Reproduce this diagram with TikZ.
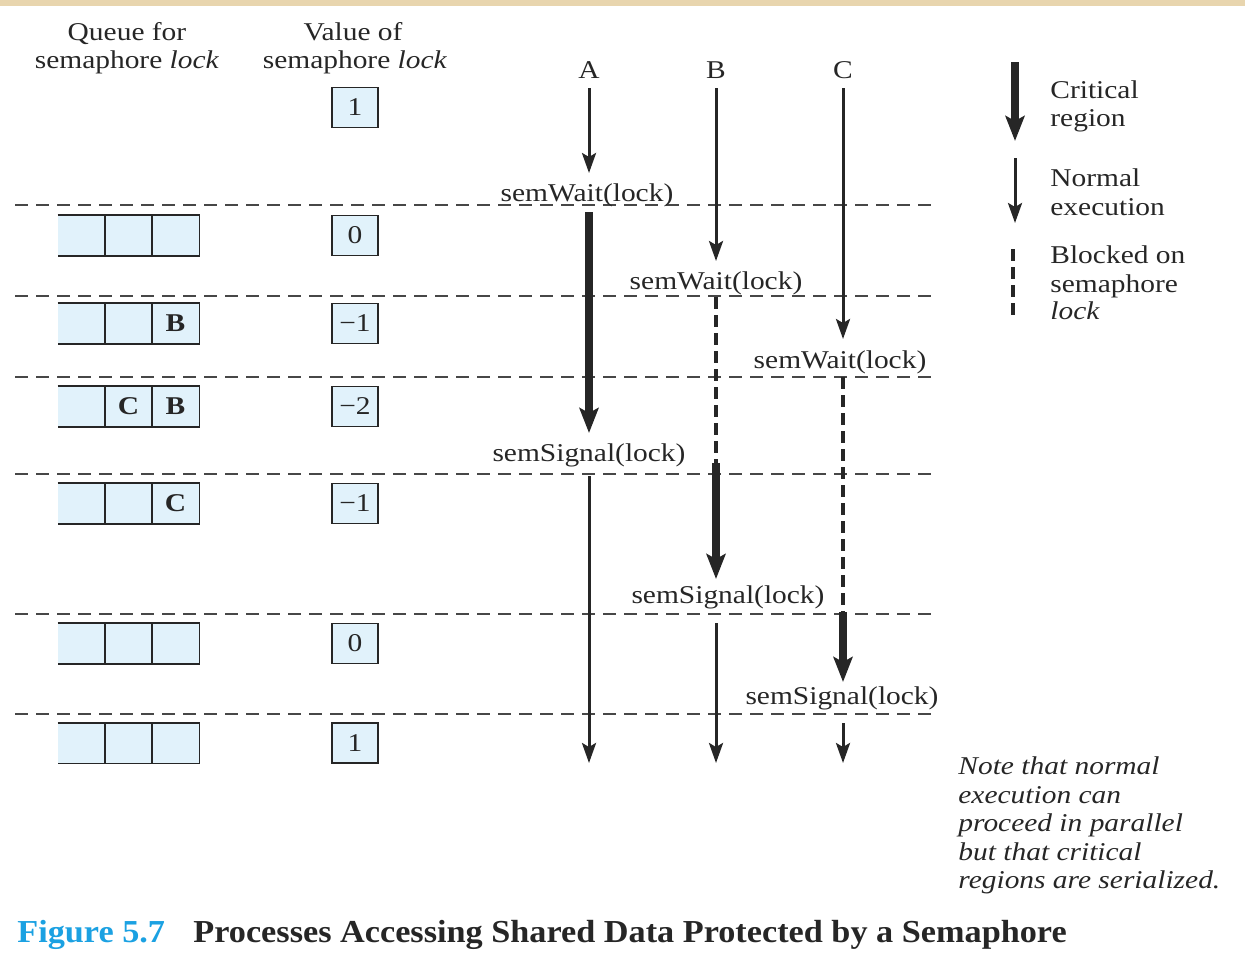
\documentclass[tikz,border=0pt]{standalone}
\usepackage{fontspec}
\setmainfont{Liberation Serif}[FakeStretch=1.15]
\newfontfamily\capfont{Liberation Serif}[FakeStretch=1.07]
\usetikzlibrary{arrows.meta}

\definecolor{ink}{HTML}{262626}
\definecolor{boxfill}{HTML}{E1F2FB}
\definecolor{figblue}{HTML}{1BA1E2}
\definecolor{paper}{HTML}{E8D5AE}

\begin{document}
\begin{tikzpicture}[x=0.5pt,y=-0.5pt,
  every node/.style={font=\fontsize{12.8}{15}\selectfont, text=ink, inner sep=0pt},
  lbl/.style={anchor=base},
  lblw/.style={anchor=base west},
  valbox/.style={draw=ink, line width=0.9pt, fill=boxfill,
                 minimum width=23pt, minimum height=20pt},
  cell/.style={fill=boxfill, minimum width=23.5pt, minimum height=20pt,
               font=\fontsize{12.8}{15}\selectfont\bfseries},
  qline/.style={draw=ink, line width=0.9pt},
  divider/.style={draw=ink!85, line width=1pt, dash pattern=on 6.5pt off 4pt},
  normal/.style={draw=ink, line width=1.5pt,
                 -{Stealth[length=10pt,width=7pt,inset=2pt]}},
  critical/.style={draw=ink, line width=4.2pt,
                   -{Stealth[length=12.5pt,width=9.5pt,inset=2.5pt]}},
  blocked/.style={draw=ink, line width=2.2pt, dash pattern=on 6pt off 3pt},
  notetext/.style={anchor=base west, font=\fontsize{12.8}{15}\selectfont\itshape},
  captext/.style={anchor=base west, font=\capfont\bfseries\fontsize{16}{19}\selectfont},
]
\useasboundingbox (0,0) rectangle (1245,955);
\fill[paper] (0,0) rectangle (1245,6);

% column headings
\node[lbl] (hq1) at (127,40) {Queue for};
\node[lbl] (hq2) at (127,68) {semaphore \textit{lock}};
\node[lbl] (hv1) at (353,40) {Value of};
\node[lbl] (hv2) at (355,68) {semaphore \textit{lock}};

% process names
\node[lbl] (pA) at (589,78) {A};
\node[lbl] (pB) at (716,78) {B};
\node[lbl] (pC) at (843,78) {C};

% time-step separators
\foreach \y/\n in {205/1,296/2,377/3,474/4,614/5,714/6}
  \draw[divider] (15,\y) coordinate (dl\n) -- (937,\y) coordinate (dr\n);

% initial semaphore value
\node[valbox] (v0) at (355,107.5) {1};

% queue contents and semaphore value at each step
\foreach \r/\y/\qa/\qb/\qc/\v in {1/235.5/{}/{}/{}/0, 2/323.5/{}/{}/B/−1,
    3/406.5/{}/C/B/−2, 4/503.5/{}/{}/C/−1, 5/643.5/{}/{}/{}/0, 6/743/{}/{}/{}/1}{
  \node[cell] (q\r a) at (81.5,\y) {\qa};
  \node[cell] (q\r b) at (128.5,\y) {\qb};
  \node[cell] (q\r c) at (175.5,\y) {\qc};
  \draw[qline] (q\r a.north west) -- (q\r c.north east) -- (q\r c.south east)
               -- (q\r a.south west);
  \draw[qline] (q\r b.north west) -- (q\r b.south west);
  \draw[qline] (q\r c.north west) -- (q\r c.south west);
  \node[valbox] (v\r) at (355,\y) {\v};
}

% semaphore operations
\node[lbl] (w1) at (587,201) {semWait(lock)};
\node[lbl] (w2) at (716,289) {semWait(lock)};
\node[lbl] (w3) at (840,368) {semWait(lock)};
\node[lbl] (s1) at (589,461) {semSignal(lock)};
\node[lbl] (s2) at (728,603) {semSignal(lock)};
\node[lbl] (s3) at (842,704) {semSignal(lock)};

% process A
\coordinate (a0) at (589,88);  \coordinate (a1) at (589,173);
\coordinate (a2) at (589,212); \coordinate (a3) at (589,433);
\coordinate (a4) at (589,476); \coordinate (a5) at (589,763);
\draw[normal] (a0) -- (a1);
\draw[critical] (a2) -- (a3);
\draw[normal] (a4) -- (a5);

% process B
\coordinate (b0) at (716,88);  \coordinate (b1) at (716,261);
\coordinate (b2) at (716,297); \coordinate (b3) at (716,463);
\coordinate (b4) at (716,579); \coordinate (b5) at (716,623);
\coordinate (b6) at (716,763);
\draw[normal] (b0) -- (b1);
\draw[blocked] (b2) -- (b3);
\draw[critical] (b3) -- (b4);
\draw[normal] (b5) -- (b6);

% process C
\coordinate (c0) at (843,88);  \coordinate (c1) at (843,339);
\coordinate (c2) at (843,377); \coordinate (c3) at (843,612);
\coordinate (c4) at (843,682); \coordinate (c5) at (843,723);
\coordinate (c6) at (843,763);
\draw[normal] (c0) -- (c1);
\draw[blocked] (c2) -- (c3);
\draw[critical] (c3) -- (c4);
\draw[normal] (c5) -- (c6);

% legend
\coordinate (k0) at (1015,62);  \coordinate (k1) at (1015,141);
\coordinate (k2) at (1015,158); \coordinate (k3) at (1015,223);
\coordinate (k4) at (1013,249); \coordinate (k5) at (1013,318);
\draw[critical] (k0) -- (k1);
\draw[normal] (k2) -- (k3);
\draw[blocked] (k4) -- (k5);
\node[lblw] (l1) at (1050,98) {Critical};
\node[lblw] (l2) at (1050,126) {region};
\node[lblw] (l3) at (1050,186) {Normal};
\node[lblw] (l4) at (1050,215) {execution};
\node[lblw] (l5) at (1050,263) {Blocked on};
\node[lblw] (l6) at (1050,292) {semaphore};
\node[lblw] (l7) at (1050,319) {\textit{lock}};

% note
\node[notetext] (n1) at (958,774) {Note that normal};
\node[notetext] (n2) at (958,803) {execution can};
\node[notetext] (n3) at (958,831) {proceed in parallel};
\node[notetext] (n4) at (958,860) {but that critical};
\node[notetext] (n5) at (958,888) {regions are serialized.};

% caption
\node[captext, text=figblue] (f1) at (17,942) {Figure 5.7};
\node[captext] (f2) at (193,942)
  {Processes Accessing Shared Data Protected by a Semaphore};
\end{tikzpicture}
\end{document}
